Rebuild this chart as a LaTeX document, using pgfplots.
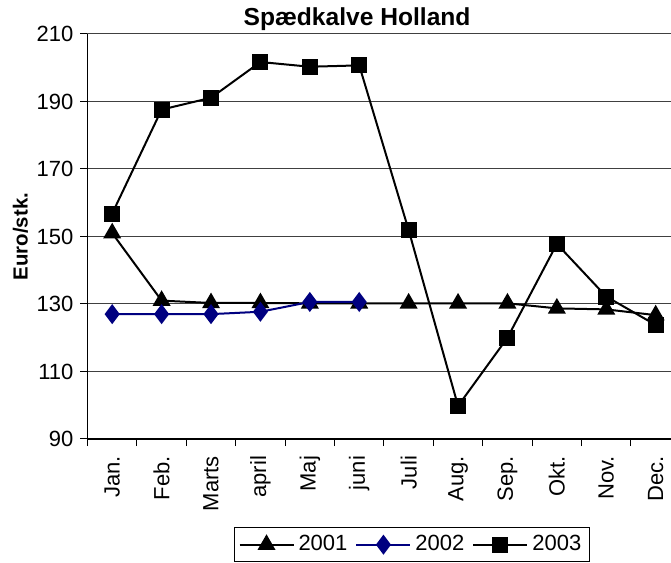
\documentclass[border=0pt]{standalone}
\usepackage{pgfplots}
\pgfplotsset{compat=1.18}
\usepackage{fontspec}
\setmainfont{Liberation Sans}
\definecolor{navy}{RGB}{0,0,128}
\begin{document}
\begin{tikzpicture}
\begin{axis}[
  scale only axis,
  width=291.75pt, height=202.5pt,
  xmin=-0.5, xmax=11.31,
  ymin=90, ymax=210,
  ytick={90,110,...,210},
  xtick={0,...,11},
  xticklabels={Jan.,Feb.,Marts,april,Maj,juni,Juli,Aug.,Sep.,Okt.,Nov.,Dec.},
  minor xtick={-0.5,0.5,...,11.5},
  axis x line*=bottom, axis y line*=left,
  axis line style={black, line width=0.6pt, -},
  tick align=outside,
  major tick length=3.5pt, minor tick length=3.5pt,
  major x tick style={draw=none},
  tick style={black, line width=0.5pt},
  ymajorgrids,
  major grid style={black!75, line width=0.5pt},
  /pgf/number format/assume math mode=true,
  tick label style={font=\fontsize{11}{13}\selectfont},
  x tick label style={rotate=90, anchor=east, xshift=-1.5pt},
  title={\bfseries Spædkalve Holland},
  title style={font=\fontsize{12.3}{14}\selectfont, at={(axis description cs:0.462,1)}, anchor=base, yshift=-2pt},
  ylabel={\bfseries Euro/stk.},
  ylabel style={font=\fontsize{10.2}{12}\selectfont, at={(axis description cs:-0.115,0.5)}, anchor=center, rotate=0},
  legend columns=3,
  legend style={at={(axis description cs:0.556,-0.2173)}, anchor=north, draw=black, line width=0.5pt,
    font=\fontsize{11}{13}\selectfont, /tikz/every even column/.append style={column sep=2pt},
    inner sep=2pt},
  legend image code/.code={\draw[#1] (0pt,0pt) -- (13.5pt,0pt) plot coordinates {(13.5pt,0pt)} -- (27pt,0pt);},
  clip=false,
]
\addplot[black, line width=1pt, mark=triangle*, mark size=4.2pt, mark options={fill=black, solid}] coordinates {
(0,151) (1,131) (2,130.3) (3,130.3) (4,130.2) (5,130.2) (6,130.2) (7,130.2) (8,130.2) (9,128.7) (10,128.4) (11,126.7)};
\addlegendentry{2001}
\addplot[navy, line width=1pt, mark=diamond*, mark size=4.2pt, mark options={fill=navy, solid}] coordinates {
(0,127.0) (1,127.0) (2,127.0) (3,127.7) (4,130.6) (5,130.6)};
\addlegendentry{2002}
\addplot[black, line width=1pt, mark=square*, mark size=3.5pt, mark options={fill=black, solid}] coordinates {
(0,156.8) (1,187.6) (2,191.1) (3,201.7) (4,200.3) (5,200.7) (6,151.9) (7,99.8) (8,120.0) (9,147.8) (10,132.2) (11,123.8)};
\addlegendentry{2003}
\coordinate (BL) at (rel axis cs:0,0);
\coordinate (TR) at (rel axis cs:1,1);
\end{axis}
\pgfresetboundingbox
\path (BL) ++(-43.75pt,-62pt) coordinate (A);
\path (TR) ++(0pt,17pt) coordinate (B);
\path[use as bounding box] (A) rectangle (B);
\end{tikzpicture}
\end{document}
